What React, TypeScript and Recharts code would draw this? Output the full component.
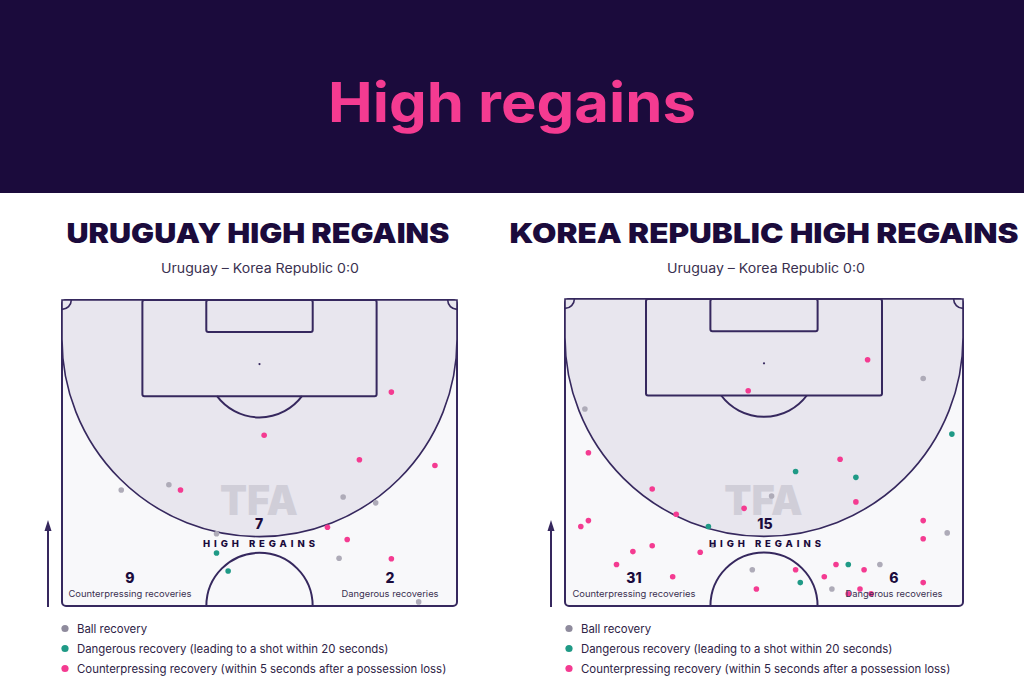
import { ReferenceArea, ReferenceDot, Scatter, ScatterChart, XAxis, YAxis } from "recharts";

type Pt = { x: number; y: number };

// pitch coordinates in metres: x across the pitch (0-68), y from the goal line (0) to halfway (52.5)
const uruguayBall: Pt[] = [
  { x: 10.2, y: 32.6 }, { x: 18.4, y: 31.7 }, { x: 48.4, y: 33.8 }, { x: 54.0, y: 34.8 },
  { x: 26.6, y: 40.1 }, { x: 47.7, y: 44.3 }, { x: 61.4, y: 51.8 },
];
const uruguayDangerous: Pt[] = [{ x: 26.6, y: 43.4 }, { x: 28.6, y: 46.5 }];
const uruguayCounter: Pt[] = [
  { x: 56.7, y: 15.8 }, { x: 34.8, y: 23.2 }, { x: 51.2, y: 27.4 }, { x: 64.2, y: 28.4 },
  { x: 20.4, y: 32.6 }, { x: 45.7, y: 39.0 }, { x: 49.1, y: 41.1 }, { x: 56.7, y: 44.4 },
];

const koreaBall: Pt[] = [
  { x: 3.4, y: 18.8 }, { x: 61.2, y: 13.6 }, { x: 35.3, y: 33.7 }, { x: 65.3, y: 40.0 },
  { x: 25.3, y: 42.1 }, { x: 32.0, y: 46.3 }, { x: 53.8, y: 45.4 }, { x: 45.6, y: 49.6 },
];
const koreaDangerous: Pt[] = [
  { x: 66.1, y: 23.1 }, { x: 39.4, y: 29.5 }, { x: 49.7, y: 30.5 }, { x: 24.5, y: 38.9 },
  { x: 48.4, y: 45.4 }, { x: 40.2, y: 48.5 },
];
const koreaCounter: Pt[] = [
  { x: 51.7, y: 10.4 }, { x: 31.3, y: 15.7 }, { x: 4.0, y: 26.3 }, { x: 47.0, y: 27.4 },
  { x: 14.9, y: 32.5 }, { x: 49.7, y: 34.7 }, { x: 30.6, y: 35.8 }, { x: 19.0, y: 36.8 },
  { x: 4.0, y: 37.9 }, { x: 2.7, y: 38.9 }, { x: 61.2, y: 37.9 }, { x: 61.2, y: 41.0 },
  { x: 14.9, y: 42.2 }, { x: 11.6, y: 43.2 }, { x: 23.1, y: 43.3 }, { x: 8.8, y: 45.4 },
  { x: 46.3, y: 45.4 }, { x: 39.4, y: 46.3 }, { x: 51.1, y: 46.3 }, { x: 44.3, y: 47.5 },
  { x: 18.4, y: 47.5 }, { x: 61.2, y: 48.5 }, { x: 32.7, y: 49.6 }, { x: 50.4, y: 49.6 },
  { x: 48.4, y: 50.4 }, { x: 52.3, y: 50.4 },
];

const teamTitles = ["URUGUAY HIGH REGAINS", "KOREA REPUBLIC HIGH REGAINS"];
const matchLine = "Uruguay – Korea Republic 0:0";
const highRegains = ["7", "15"];
const counterCounts = ["9", "31"];
const dangerousCounts = ["2", "6"];
const legendLabels = [
  "Ball recovery",
  "Dangerous recovery (leading to a shot within 20 seconds)",
  "Counterpressing recovery (within 5 seconds after a possession loss)",
];

const NAVY = "#1b0b3c";
const LINE = "#36285e";
const PINK = "#f43b91";
const TEAL = "#1f9a86";
const GREY = "#aeabb8";
const GREY_LEGEND = "#8f8b9d";
const ZONE = "#e8e6ee";
const FIELD = "#f8f8fa";
const TEXT = "#3a3050";
const FONT = "Inter, 'Noto Sans', sans-serif";

const dot = (color: string) => (p: any) => <circle cx={p.cx} cy={p.cy} r={2.8} fill={color} />;

const OuterShape = (p: any) => (
  <rect x={p.x} y={p.y} width={p.width} height={p.height} rx={4} fill={FIELD} stroke={LINE} strokeWidth={2} />
);
const ZoneShape = (p: any) => {
  const r = p.width / 2;
  const d = `M${p.x},${p.y} L${p.x + p.width},${p.y} L${p.x + p.width},${p.y + p.height - r} A${r},${r} 0 0 1 ${p.x},${p.y + p.height - r} Z`;
  return <path d={d} fill={ZONE} stroke={LINE} strokeWidth={1.6} />;
};
const BoxShape = (p: any) => (
  <rect x={p.x} y={p.y} width={p.width} height={p.height} rx={2} fill="none" stroke={LINE} strokeWidth={2} />
);
const PenArcShape = (p: any) => {
  const c = p.width / 2;
  const r = (c * c + p.height * p.height) / (2 * p.height);
  return <path d={`M${p.x},${p.y} A${r},${r} 0 0 0 ${p.x + p.width},${p.y}`} fill="none" stroke={LINE} strokeWidth={2} />;
};
const CenterArcShape = (p: any) => {
  const r = p.width / 2;
  return <path d={`M${p.x},${p.y + p.height} A${r},${r} 0 0 1 ${p.x + p.width},${p.y + p.height}`} fill="none" stroke={LINE} strokeWidth={2} />;
};
const CornerLeft = (p: any) => (
  <path d={`M${p.x + p.width},${p.y} A${p.width},${p.height} 0 0 1 ${p.x},${p.y + p.height}`} fill="none" stroke={LINE} strokeWidth={1.6} />
);
const CornerRight = (p: any) => (
  <path d={`M${p.x},${p.y} A${p.width},${p.height} 0 0 0 ${p.x + p.width},${p.y + p.height}`} fill="none" stroke={LINE} strokeWidth={1.6} />
);
const Watermark = (p: any) => (
  <text x={p.x} y={p.y + p.height} textLength={p.width} lengthAdjust="spacingAndGlyphs"
    fontSize={p.height * 1.37} fontWeight={900} fontFamily={FONT} fill="#d0ced8">TFA</text>
);

function Pitch({ ball, dangerous, counter, margin }: { ball: Pt[]; dangerous: Pt[]; counter: Pt[]; margin: any }) {
  return (
    <ScatterChart width={440} height={330} margin={margin}>
      <XAxis type="number" dataKey="x" domain={[0, 68]} hide allowDataOverflow />
      <YAxis type="number" dataKey="y" domain={[0, 52.5]} reversed hide allowDataOverflow />
      <ReferenceArea x1={0} x2={68} y1={0} y2={52.5} shape={OuterShape} />
      <ReferenceArea x1={0} x2={68} y1={0} y2={40.6} shape={ZoneShape} />
      <ReferenceArea x1={13.84} x2={54.16} y1={0} y2={16.5} shape={BoxShape} />
      <ReferenceArea x1={24.84} x2={43.16} y1={0} y2={5.5} shape={BoxShape} />
      <ReferenceArea x1={26.69} x2={41.31} y1={16.5} y2={20.15} shape={PenArcShape} />
      <ReferenceArea x1={24.85} x2={43.15} y1={43.35} y2={52.5} shape={CenterArcShape} />
      <ReferenceArea x1={0} x2={1.6} y1={0} y2={1.6} shape={CornerLeft} />
      <ReferenceArea x1={66.4} x2={68} y1={0} y2={1.6} shape={CornerRight} />
      <ReferenceArea x1={27.2} x2={40.6} y1={31.8} y2={36.9} shape={Watermark} />
      <ReferenceDot x={34} y={11} r={1.1} fill={LINE} stroke="none" />
      <Scatter data={ball} shape={dot(GREY)} isAnimationActive={false} />
      <Scatter data={dangerous} shape={dot(TEAL)} isAnimationActive={false} />
      <Scatter data={counter} shape={dot(PINK)} isAnimationActive={false} />
    </ScatterChart>
  );
}

const panels = [
  { cx: 258, arrowX: 48, left: 130, right: 390, legendX: 65, titleW: 383 },
  { cx: 764, arrowX: 551, left: 634, right: 894, legendX: 569, titleW: 509 },
];

export default function App() {
  return (
    <div style={{ position: "fixed", left: 0, top: 0, width: 1024, height: 683, background: "#fff", overflow: "hidden" }}>
      <div style={{ position: "absolute", left: 0, top: 0, width: 1024, height: 193, background: NAVY }} />
      <div style={{ position: "absolute", left: 40, top: 290 }}>
        <Pitch ball={uruguayBall} dangerous={uruguayDangerous} counter={uruguayCounter}
          margin={{ top: 10, left: 22, right: 23, bottom: 14 }} />
      </div>
      <div style={{ position: "absolute", left: 543, top: 289 }}>
        <Pitch ball={koreaBall} dangerous={koreaDangerous} counter={koreaCounter}
          margin={{ top: 10, left: 22, right: 20, bottom: 13 }} />
      </div>
      <svg width={1024} height={683} style={{ position: "absolute", left: 0, top: 0, pointerEvents: "none" }} fontFamily={FONT}>
        <text x={512} y={122} textAnchor="middle" fontSize={55} fontWeight={700} fill={PINK} textLength={368} lengthAdjust="spacingAndGlyphs">High regains</text>
        {panels.map((p, i) => (
          <g key={i}>
            <text x={p.cx} y={243} textAnchor="middle" fontSize={27} fontWeight={900} fill={NAVY}
              textLength={p.titleW} lengthAdjust="spacingAndGlyphs">{teamTitles[i]}</text>
            <text x={p.cx + 2} y={273} textAnchor="middle" fontSize={13} fill={TEXT}
              textLength={198} lengthAdjust="spacingAndGlyphs">{matchLine}</text>
            <text x={p.cx + 1} y={529} textAnchor="middle" fontSize={14} fontWeight={800} fill={NAVY}>{highRegains[i]}</text>
            <text x={p.cx + 1} y={547} textAnchor="middle" fontSize={9.5} fontWeight={800} fill={NAVY}
              textLength={112} lengthAdjust="spacing">HIGH REGAINS</text>
            <text x={p.left} y={583} textAnchor="middle" fontSize={14} fontWeight={800} fill={NAVY}>{counterCounts[i]}</text>
            <text x={p.left} y={597} textAnchor="middle" fontSize={9} fill={TEXT}
              textLength={123} lengthAdjust="spacingAndGlyphs">Counterpressing recoveries</text>
            <text x={p.right} y={583} textAnchor="middle" fontSize={14} fontWeight={800} fill={NAVY}>{dangerousCounts[i]}</text>
            <text x={p.right} y={597} textAnchor="middle" fontSize={9} fill={TEXT}
              textLength={97} lengthAdjust="spacingAndGlyphs">Dangerous recoveries</text>
            <line x1={p.arrowX} y1={607} x2={p.arrowX} y2={528} stroke={LINE} strokeWidth={2} />
            <path d={`M${p.arrowX - 3.5},${531} L${p.arrowX},${520} L${p.arrowX + 3.5},${531} Z`} fill={LINE} />
            {legendLabels.map((t, j) => (
              <g key={j}>
                <circle cx={p.legendX} cy={628.5 + j * 20} r={3.6} fill={[GREY_LEGEND, TEAL, PINK][j]} />
                <text x={p.legendX + 12} y={632.5 + j * 20} fontSize={11.4} fill="#2e2346">{t}</text>
              </g>
            ))}
          </g>
        ))}
      </svg>
    </div>
  );
}
